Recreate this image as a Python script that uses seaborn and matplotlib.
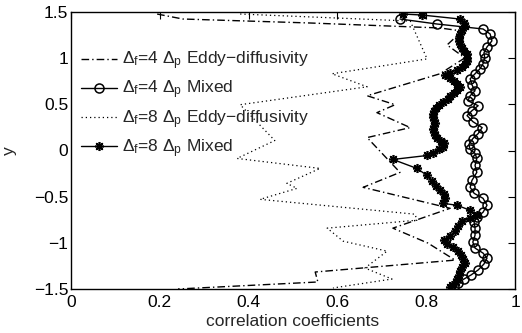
import matplotlib
matplotlib.use("Agg")
import matplotlib.pyplot as plt
import seaborn as sns

# ---- data (x = correlation coefficient, y = position) ----
ed4_x = [0.194, 0.252, 0.538, 0.831, 0.881, 0.847, 0.887, 0.831, 0.667, 0.730, 0.689,
         0.764, 0.667, 0.741, 0.658, 0.854, 0.725, 0.804, 0.865, 0.550, 0.556, 0.241]
ed4_y = [1.478, 1.424, 1.381, 1.327, 1.294, 1.143, 1.003, 0.831, 0.593, 0.496, 0.410,
         0.248, 0.140, -0.237, -0.399, -0.626, -0.841, -1.003, -1.187, -1.316, -1.424, -1.500]

mx4_x = [0.741, 0.824, 0.928, 0.944, 0.948, 0.937, 0.930, 0.932, 0.928, 0.921, 0.910,
         0.899, 0.903, 0.910, 0.899, 0.894, 0.917, 0.903, 0.892, 0.905, 0.926, 0.917,
         0.905, 0.896, 0.899, 0.910, 0.914, 0.910, 0.914, 0.903, 0.899, 0.908, 0.928,
         0.937, 0.928, 0.914, 0.908, 0.910, 0.910, 0.905, 0.910, 0.928, 0.937, 0.930,
         0.917, 0.901, 0.885, 0.872, 0.863]
mx4_y = [1.424, 1.370, 1.316, 1.262, 1.187, 1.122, 1.057, 1.003, 0.939, 0.885, 0.831,
         0.777, 0.712, 0.647, 0.593, 0.539, 0.485, 0.431, 0.378, 0.313, 0.248, 0.183,
         0.129, 0.065, 0.011, -0.032, -0.086, -0.162, -0.237, -0.324, -0.399, -0.464, -0.518,
         -0.593, -0.669, -0.723, -0.777, -0.841, -0.917, -0.992, -1.057, -1.111, -1.165, -1.230,
         -1.294, -1.348, -1.392, -1.435, -1.478]

ed8_x = [0.381, 0.764, 0.802, 0.588, 0.667, 0.381, 0.459, 0.374, 0.561, 0.486,
         0.509, 0.426, 0.775, 0.779, 0.577, 0.613, 0.712, 0.662, 0.723, 0.590]
ed8_y = [1.478, 1.402, 0.992, 0.831, 0.690, 0.496, 0.108, -0.086, -0.194, -0.356,
         -0.410, -0.529, -0.690, -0.755, -0.841, -0.982, -1.090, -1.273, -1.392, -1.489]

mx8_x = [0.748, 0.791, 0.876, 0.885, 0.887, 0.881, 0.876, 0.874, 0.874, 0.876,
         0.881, 0.885, 0.892, 0.892, 0.892, 0.887, 0.881, 0.869, 0.854, 0.842,
         0.854, 0.863, 0.869, 0.876, 0.869, 0.863, 0.854, 0.849, 0.838, 0.829,
         0.822, 0.818, 0.815, 0.815, 0.818, 0.820, 0.818, 0.815, 0.818, 0.820,
         0.824, 0.833, 0.840, 0.838, 0.829, 0.815, 0.802, 0.725, 0.779, 0.802,
         0.813, 0.822, 0.831, 0.840, 0.842, 0.838, 0.869, 0.899, 0.914, 0.899,
         0.881, 0.872, 0.865, 0.854, 0.840, 0.847, 0.860, 0.872, 0.878, 0.883,
         0.887, 0.881, 0.876, 0.874, 0.869, 0.867, 0.858, 0.854]
mx8_y = [1.478, 1.467, 1.424, 1.381, 1.348, 1.305, 1.262, 1.219, 1.187, 1.154,
         1.111, 1.079, 1.046, 1.003, 0.971, 0.939, 0.906, 0.874, 0.841, 0.820,
         0.787, 0.755, 0.723, 0.690, 0.658, 0.626, 0.593, 0.561, 0.529, 0.496,
         0.464, 0.431, 0.399, 0.367, 0.334, 0.302, 0.270, 0.237, 0.205, 0.173,
         0.140, 0.108, 0.076, 0.043, 0.011, -0.022, -0.054, -0.097, -0.194, -0.270,
         -0.334, -0.388, -0.431, -0.475, -0.518, -0.572, -0.593, -0.647, -0.701, -0.734,
         -0.766, -0.820, -0.874, -0.928, -0.971, -1.014, -1.046, -1.090, -1.133, -1.176,
         -1.219, -1.262, -1.305, -1.348, -1.392, -1.424, -1.456, -1.478]

labels = [
    "Δ$_\\mathregular{f}$=4 Δ$_\\mathregular{p}$ Eddy−diffusivity",
    "Δ$_\\mathregular{f}$=4 Δ$_\\mathregular{p}$ Mixed",
    "Δ$_\\mathregular{f}$=8 Δ$_\\mathregular{p}$ Eddy−diffusivity",
    "Δ$_\\mathregular{f}$=8 Δ$_\\mathregular{p}$ Mixed",
]
xticks = [0, 0.2, 0.4, 0.6, 0.8, 1]
xticklabels = ["0", "0.2", "0.4", "0.6", "0.8", "1"]
yticks = [-1.5, -1, -0.5, 0, 0.5, 1, 1.5]
yticklabels = ["−1.5", "−1", "−0.5", "0", "0.5", "1", "1.5"]

sns.set_theme(style="white")
plt.rcParams["font.family"] = ["Liberation Sans", "DejaVu Sans"]
plt.rcParams["mathtext.fontset"] = "custom"
plt.rcParams["mathtext.rm"] = "Liberation Sans"
plt.rcParams["mathtext.it"] = "Liberation Sans:italic"

fs = 12.5
fig = plt.figure(figsize=(5.22, 3.33), dpi=100)
ax = fig.add_axes([71 / 522, 44 / 333, 444 / 522, 277 / 333])

common = dict(ax=ax, sort=False, estimator=None, color="black")
sns.lineplot(x=ed4_x, y=ed4_y, linestyle=(0, (5.5, 2.2, 1, 2.2)), linewidth=1.0,
             label=labels[0], **common)
sns.lineplot(x=mx4_x, y=mx4_y, linestyle="-", linewidth=1.0, marker="o", markersize=6.5,
             markerfacecolor="none", markeredgecolor="black", markeredgewidth=1.1,
             label=labels[1], **common)
sns.lineplot(x=ed8_x, y=ed8_y, linestyle=(0, (1, 2.4)), linewidth=0.9,
             label=labels[2], **common)
sns.lineplot(x=mx8_x, y=mx8_y, linestyle="-", linewidth=1.0, marker=(8, 2, 0), markersize=6.5,
             markerfacecolor="black", markeredgecolor="black", markeredgewidth=1.2,
             label=labels[3], **common)

ax.set_xlim(0, 1)
ax.set_ylim(-1.5, 1.5)
ax.set_xticks(xticks)
ax.set_xticklabels(xticklabels, fontsize=fs)
ax.set_yticks(yticks)
ax.set_yticklabels(yticklabels, fontsize=fs)
ax.tick_params(direction="in", top=True, right=True, length=5, width=0.8,
               colors="black", pad=2)
ax.tick_params(axis="x", pad=4)
ax.set_xlabel("correlation coefficients", fontsize=fs, labelpad=3)
ax.set_ylabel("y", fontsize=fs, labelpad=12)
for s in ax.spines.values():
    s.set_color("black")
    s.set_linewidth(1.0)

leg = ax.legend(loc="center left", bbox_to_anchor=(0.0225, 0.665), frameon=False,
                fontsize=fs, handlelength=2.1, handletextpad=0.25, labelspacing=0.38,
                borderpad=0, borderaxespad=0)

fig.savefig("out.png", dpi=100)
